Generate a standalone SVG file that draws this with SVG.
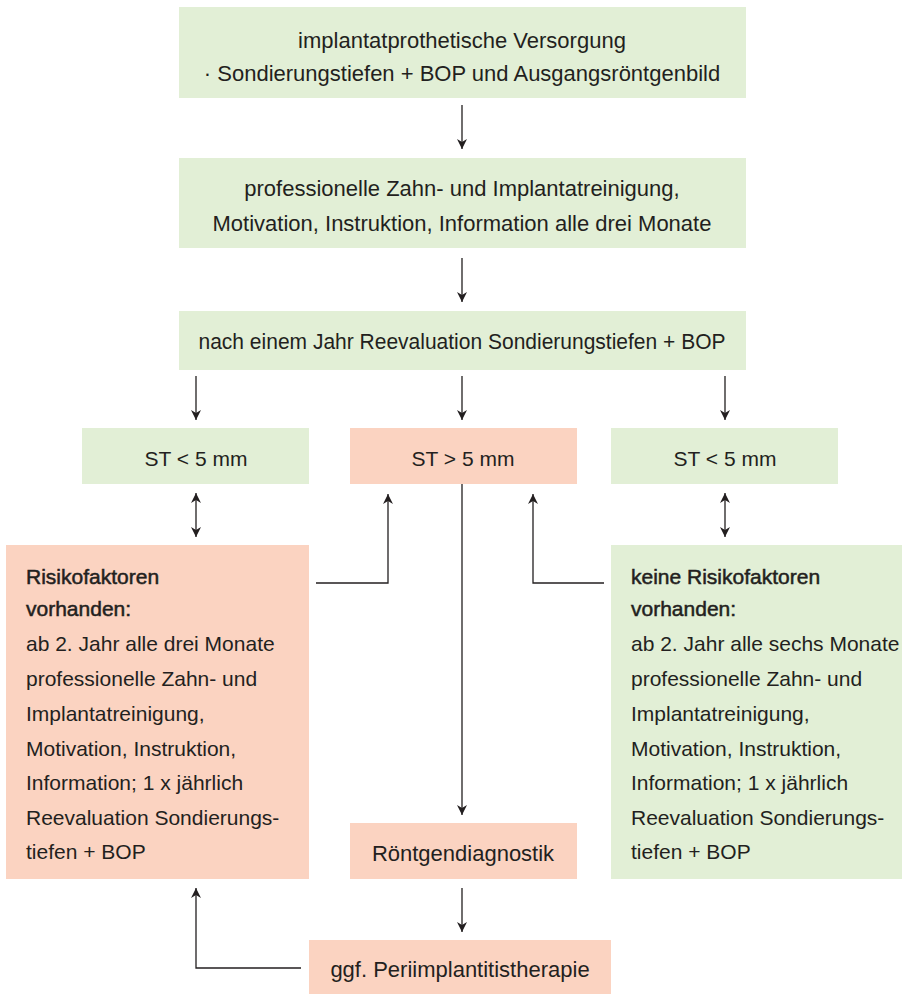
<svg xmlns="http://www.w3.org/2000/svg" width="902" height="994" viewBox="0 0 902 994">
<style>
.g{fill:#e2efd6}
.r{fill:#fbd3c1}
text{font-family:"Liberation Sans",Arial,sans-serif;font-size:22px;fill:#231f20}
.c{text-anchor:middle}
.s{font-size:21px}
.b{stroke:#231f20;stroke-width:0.5}
.ln{fill:none;stroke:#231f20;stroke-width:1.3}
</style>
<defs>
<marker id="ah" viewBox="0 0 10 10" refX="10" refY="5" markerWidth="10" markerHeight="10" markerUnits="userSpaceOnUse" orient="auto-start-reverse">
<path d="M0,0 L10,5 L0,10 L3,5 z" fill="#231f20"/>
</marker>
</defs>
<rect width="902" height="994" fill="#fff"/>
<g id="n1"><rect class="g" x="179" y="7" width="567" height="91"/>
<text class="c" x="462" y="48">implantatprothetische Versorgung</text>
<text class="c" x="462" y="81">· Sondierungstiefen + BOP und Ausgangsröntgenbild</text></g>
<g id="n2"><rect class="g" x="179" y="158" width="567" height="90"/>
<text class="c" x="462" y="196">professionelle Zahn- und Implantatreinigung,</text>
<text class="c" x="462" y="231">Motivation, Instruktion, Information alle drei Monate</text></g>
<g id="n3"><rect class="g" x="179" y="311" width="567" height="59"/>
<text class="c" x="462" y="349" textLength="527" lengthAdjust="spacingAndGlyphs">nach einem Jahr Reevaluation Sondierungstiefen + BOP</text></g>
<g id="n4"><rect class="g" x="82" y="428" width="227" height="56"/>
<text class="c s" x="196" y="466">ST &lt; 5 mm</text></g>
<g id="n5"><rect class="r" x="350" y="428" width="227" height="56"/>
<text class="c s" x="463" y="466">ST &gt; 5 mm</text></g>
<g id="n6"><rect class="g" x="611" y="428" width="227" height="56"/>
<text class="c s" x="725" y="466">ST &lt; 5 mm</text></g>
<g id="n7"><rect class="r" x="6" y="545" width="303" height="334"/>
<text x="26" y="584" class="s b">Risikofaktoren</text>
<text x="26" y="616" class="s b">vorhanden:</text>
<text x="26" y="651" class="s">ab 2. Jahr alle drei Monate</text>
<text x="26" y="686" class="s">professionelle Zahn- und</text>
<text x="26" y="721" class="s">Implantatreinigung,</text>
<text x="26" y="756" class="s">Motivation, Instruktion,</text>
<text x="26" y="790" class="s">Information; 1 x jährlich</text>
<text x="26" y="825" class="s">Reevaluation Sondierungs-</text>
<text x="26" y="859" class="s">tiefen + BOP</text></g>
<g id="n8"><rect class="g" x="611" y="545" width="291" height="334"/>
<text x="631" y="584" class="s b">keine Risikofaktoren</text>
<text x="631" y="616" class="s b">vorhanden:</text>
<text x="631" y="651" class="s">ab 2. Jahr alle sechs Monate</text>
<text x="631" y="686" class="s">professionelle Zahn- und</text>
<text x="631" y="721" class="s">Implantatreinigung,</text>
<text x="631" y="756" class="s">Motivation, Instruktion,</text>
<text x="631" y="790" class="s">Information; 1 x jährlich</text>
<text x="631" y="825" class="s">Reevaluation Sondierungs-</text>
<text x="631" y="859" class="s">tiefen + BOP</text></g>
<g id="n9"><rect class="r" x="350" y="823" width="227" height="56"/>
<text class="c" x="463" y="861">Röntgendiagnostik</text></g>
<g id="n10"><rect class="r" x="309" y="940" width="302" height="54"/>
<text class="c" x="460" y="977">ggf. Periimplantitistherapie</text></g>
<g id="connectors">
<path class="ln" d="M462,105 V149" marker-end="url(#ah)"/>
<path class="ln" d="M462,258 V302" marker-end="url(#ah)"/>
<path class="ln" d="M196,376 V420" marker-end="url(#ah)"/>
<path class="ln" d="M462,376 V420" marker-end="url(#ah)"/>
<path class="ln" d="M725,376 V420" marker-end="url(#ah)"/>
<path class="ln" d="M196,493 V537" marker-start="url(#ah)" marker-end="url(#ah)"/>
<path class="ln" d="M725,493 V537" marker-start="url(#ah)" marker-end="url(#ah)"/>
<path class="ln" d="M316,583 H388 V494" marker-end="url(#ah)"/>
<path class="ln" d="M604,583 H533 V494" marker-end="url(#ah)"/>
<path class="ln" d="M462,484 V815" marker-end="url(#ah)"/>
<path class="ln" d="M462,888 V932" marker-end="url(#ah)"/>
<path class="ln" d="M301,968 H196 V888" marker-end="url(#ah)"/>
</g>
</svg>
